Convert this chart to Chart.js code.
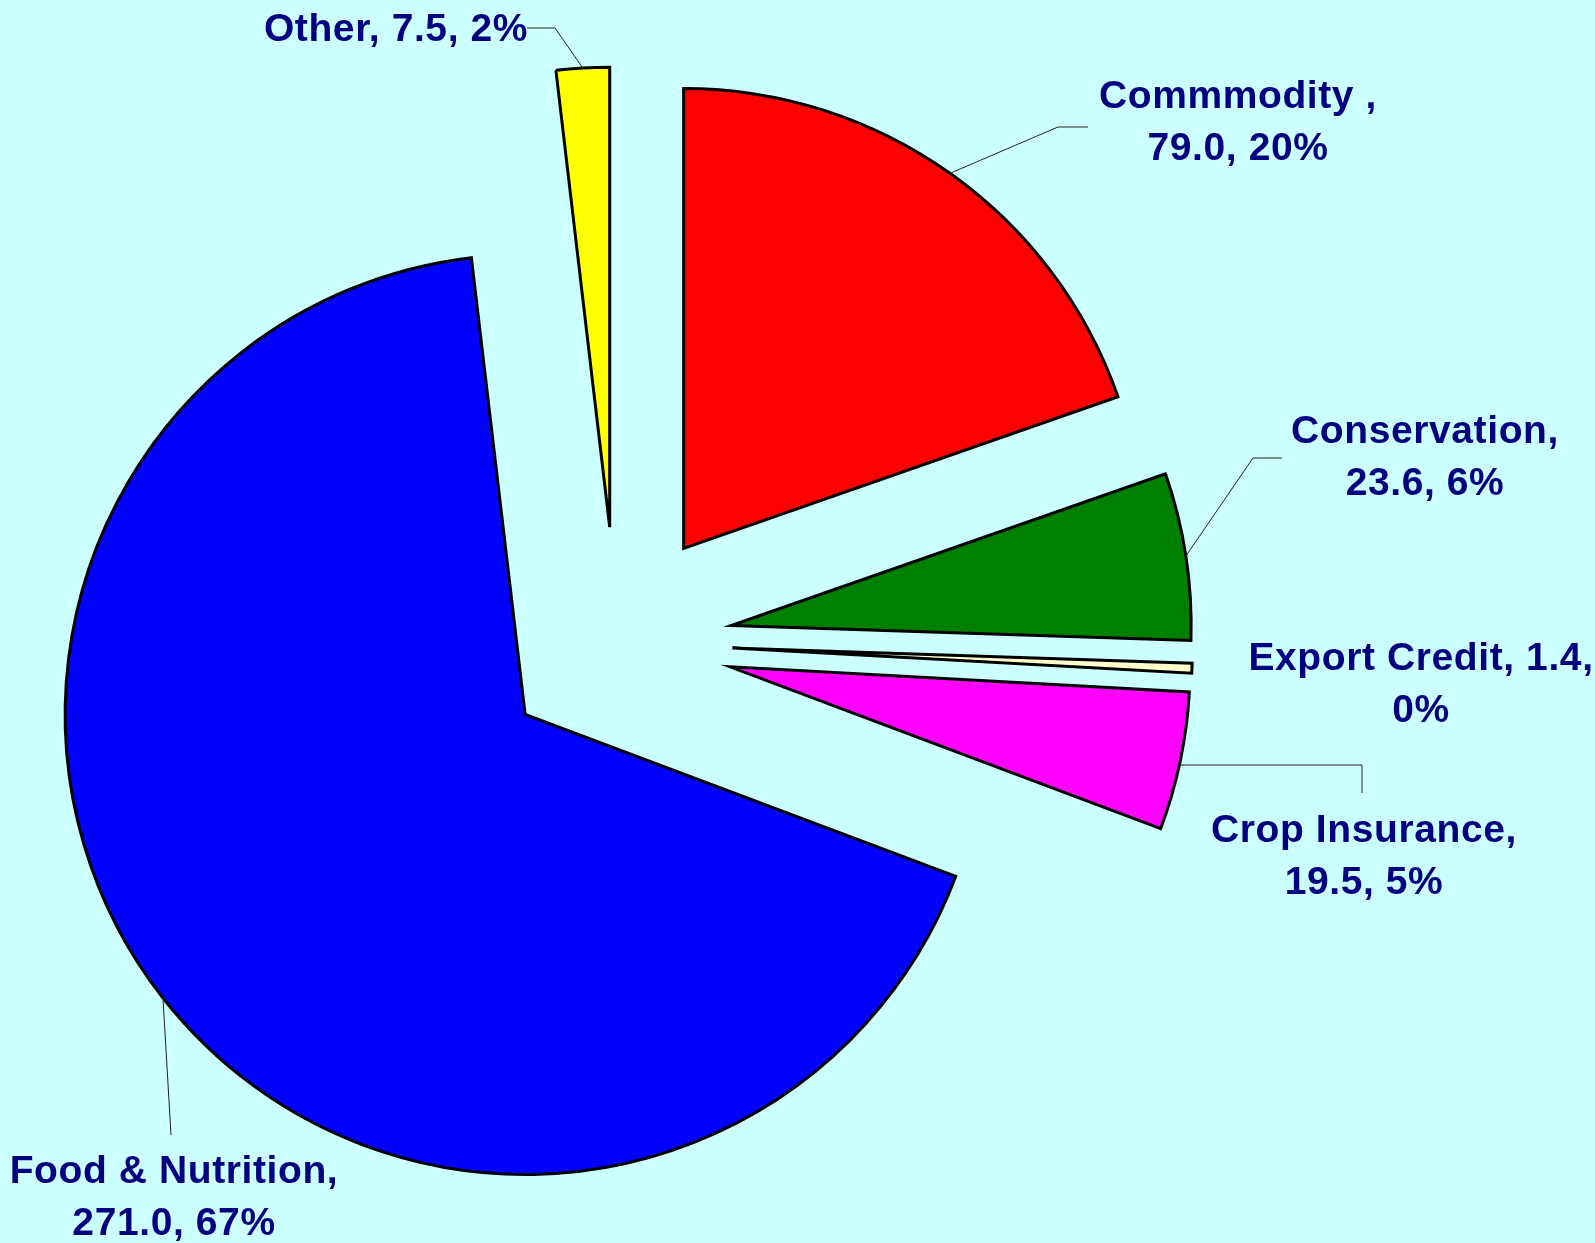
<!DOCTYPE html>
<html>
<head>
<meta charset="utf-8">
<script src="https://cdn.jsdelivr.net/npm/chart.js@4.4.0/dist/chart.umd.min.js"></script>
<style>
  html, body { margin: 0; padding: 0; background: #CCFFFF; }
  canvas { display: block; }
</style>
</head>
<body>
<canvas id="pie" width="1595" height="1243"></canvas>
<script>
// data
var categories = ['Commmodity ', 'Conservation', 'Export Credit', 'Crop Insurance', 'Food & Nutrition', 'Other'];
var values = [79.0, 23.6, 1.4, 19.5, 271.0, 7.5];
var sliceColors = ['#FF0000', '#008000', '#FFFFCC', '#FF00FF', '#0000FF', '#FFFF00'];

var EXPLODE = 116;   // distance every slice is pulled out
var RADIUS = 460;

// label placement: split = where the line breaks (1 after name, 2 after value, 0 none)
// leader = elbow points after the slice edge, flat = leader leaves the slice horizontally
var labelLayout = [
    { x: 1238, y: 108, split: 1, leader: [[1058, 127], [1088, 127]] },
    { x: 1425, y: 443, split: 1, leader: [[1253, 458], [1282, 458]] },
    { x: 1421, y: 670, split: 2, leader: null },
    { x: 1364, y: 842, split: 1, leader: [[1362, 765], [1362, 793]], flat: true },
    { x: 174, y: 1183, split: 1, leader: [[171, 1135]] },
    { x: 396, y: 41, split: 0, leader: [[555, 28], [527, 28]] }
];
var LINE_H = 52;

function total() {
    return values.reduce(function (a, b) { return a + b; }, 0);
}

function shiftOf(el) {
    var half = (el.startAngle + el.endAngle) / 2;
    return { dx: Math.cos(half) * EXPLODE, dy: Math.sin(half) * EXPLODE, half: half };
}

// pull slices out by moving each arc's centre before drawing
var explodePlugin = {
    id: 'explode',
    beforeDatasetDraw: function (chart, args) {
        args.meta.data.forEach(function (el) {
            var s = shiftOf(el);
            el._ox = el.x; el._oy = el.y;
            el.x = el.x + s.dx;
            el.y = el.y + s.dy;
        });
    },
    afterDatasetDraw: function (chart, args) {
        args.meta.data.forEach(function (el) {
            el.x = el._ox; el.y = el._oy;
        });
    }
};

var bgPlugin = {
    id: 'bg',
    beforeDraw: function (chart) {
        var c = chart.ctx;
        c.save();
        c.fillStyle = '#CCFFFF';
        c.fillRect(0, 0, chart.width, chart.height);
        c.restore();
    }
};

var labelPlugin = {
    id: 'sliceLabels',
    afterDraw: function (chart) {
        var c = chart.ctx;
        var meta = chart.getDatasetMeta(0);
        var sum = total();
        c.save();
        meta.data.forEach(function (el, i) {
            var lay = labelLayout[i];
            var s = shiftOf(el);
            var cx = el.x + s.dx, cy = el.y + s.dy, r = el.outerRadius;
            // leader line from the outer edge of the slice
            if (lay.leader) {
                var sx, sy;
                if (lay.flat) {
                    sy = lay.leader[0][1];
                    sx = cx + Math.sqrt(Math.max(r * r - (sy - cy) * (sy - cy), 0));
                } else {
                    sx = cx + Math.cos(s.half) * r;
                    sy = cy + Math.sin(s.half) * r;
                }
                c.beginPath();
                c.strokeStyle = '#222222';
                c.lineWidth = 1;
                c.moveTo(sx, sy);
                lay.leader.forEach(function (p) { c.lineTo(p[0], p[1]); });
                c.stroke();
            }
            var name = categories[i];
            var val = values[i].toFixed(1);
            var pct = Math.round(values[i] / sum * 100) + '%';
            var lines;
            if (lay.split === 1) {
                lines = [name + ',', val + ', ' + pct];
            } else if (lay.split === 2) {
                lines = [name + ', ' + val + ',', pct];
            } else {
                lines = [name + ', ' + val + ', ' + pct];
            }
            c.fillStyle = '#000080';
            c.font = 'bold 39px "Liberation Sans", Arial, sans-serif';
            c.letterSpacing = '0.6px';
            c.textAlign = 'center';
            c.textBaseline = 'alphabetic';
            lines.forEach(function (t, k) {
                c.fillText(t, lay.x, lay.y + k * LINE_H);
            });
        });
        c.restore();
    }
};

var ctx = document.getElementById('pie');

var chartGraph = new Chart(ctx, {
    type: 'pie',
    data: {
        labels: categories,
        datasets: [{
            data: values,
            backgroundColor: sliceColors,
            borderColor: '#000000',
            borderWidth: 3,
            borderJoinStyle: 'miter',
            clip: false
        }]
    },
    options: {
        responsive: false,
        animation: false,
        radius: RADIUS,
        layout: {
            padding: { left: 0, right: 362, top: 43, bottom: 0 }
        },
        plugins: {
            legend: { display: false },
            tooltip: { enabled: false }
        }
    },
    plugins: [bgPlugin, explodePlugin, labelPlugin]
});
</script>
</body>
</html>
